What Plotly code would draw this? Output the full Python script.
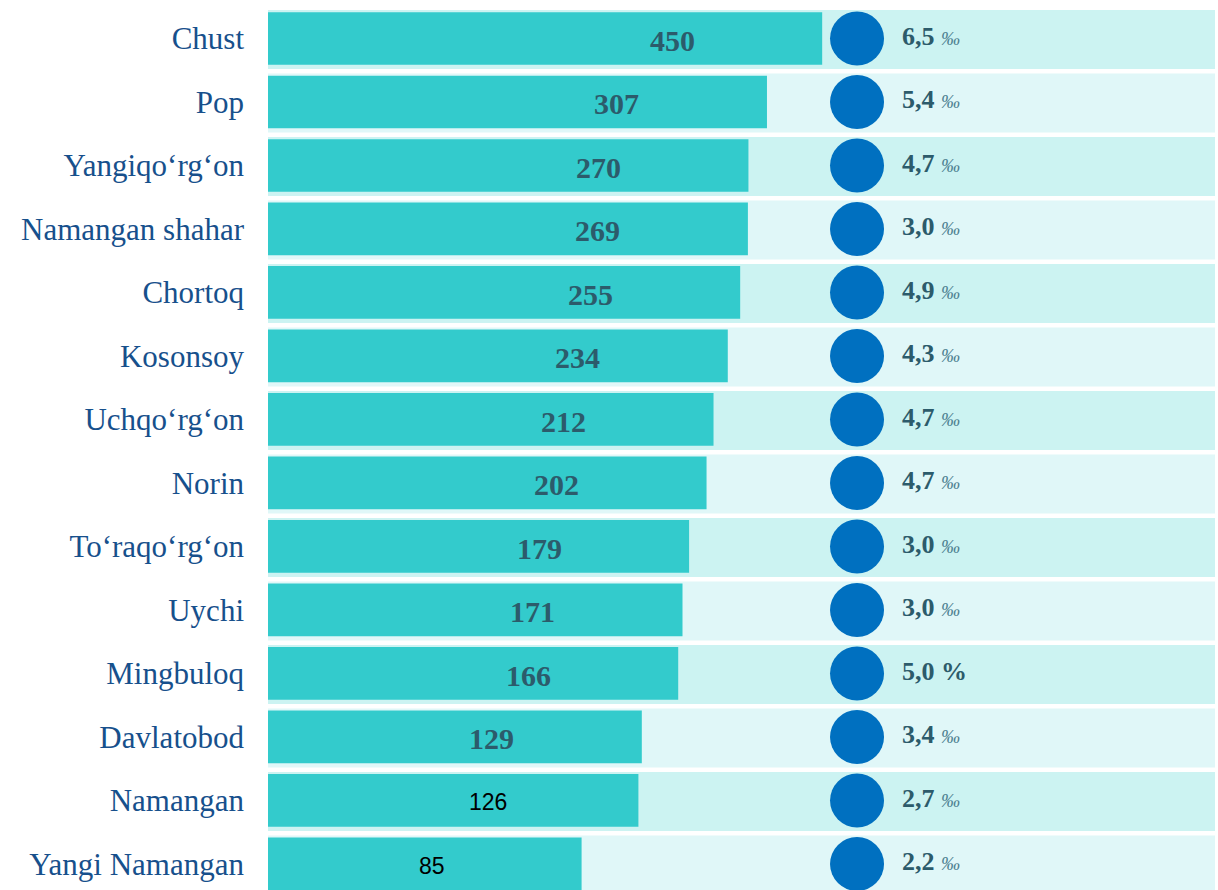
import numpy as np
import plotly.graph_objects as go

# ---- data ----
districts = ["Chust", "Pop", "Yangiqo‘rg‘on", "Namangan shahar", "Chortoq", "Kosonsoy",
             "Uchqo‘rg‘on", "Norin", "To‘raqo‘rg‘on", "Uychi", "Mingbuloq", "Davlatobod",
             "Namangan", "Yangi Namangan"]
counts = [450, 307, 270, 269, 255, 234, 212, 202, 179, 171, 166, 129, 126, 85]
rates = ["6,5", "5,4", "4,7", "3,0", "4,9", "4,3", "4,7", "4,7", "3,0", "3,0", "5,0", "3,4", "2,7", "2,2"]
units = ["‰", "‰", "‰", "‰", "‰", "‰", "‰", "‰", "‰", "‰", "%", "‰", "‰", "‰"]

# ---- styles ----
BAR = "#33CBCC"
ROW_A = "#CCF3F2"
ROW_B = "#E0F7F8"
LABEL = "#17508C"
NUM = "#2C5B6B"
UNIT = "#4E8191"
DOT = "#0070C0"
SERIF = "Liberation Serif, Times New Roman, serif"

n = len(districts)
fig = go.Figure()

fig.add_trace(go.Bar(
    x=counts, y=districts, orientation="h",
    marker=dict(color=BAR, line=dict(width=0)),
    width=0.83, hoverinfo="skip", showlegend=False,
))

fig.add_trace(go.Scatter(
    x=[0.622] * n, y=districts, xaxis="x2", mode="markers",
    marker=dict(size=54, color=DOT, line=dict(width=0)),
    hoverinfo="skip", showlegend=False,
))

shapes = []
for i in range(n):
    shapes.append(dict(
        type="rect", xref="paper", yref="y", x0=0, x1=1,
        y0=i - 0.45, y1=i + 0.48, line=dict(width=0),
        fillcolor=ROW_A if i % 2 == 0 else ROW_B, layer="below",
    ))

annotations = []
for i, (d, c) in enumerate(zip(districts, counts)):
    if i >= 12:
        font = dict(family="Liberation Sans, Arial, sans-serif", size=23, color="#000000")
        txt = str(c)
    else:
        font = dict(family=SERIF, size=30, color=NUM)
        txt = f"<b>{c}</b>"
    annotations.append(dict(
        x=np.log10(c), y=d, xref="x", yref="y", text=txt, showarrow=False,
        xanchor="center", xshift=-150, yshift=-2, font=font,
    ))

for i, (d, r, u) in enumerate(zip(districts, rates, units)):
    if u == "%":
        txt = f"<b>{r} {u}</b>"
    else:
        txt = f"<b>{r}</b> <span style='font-size:19px;color:{UNIT}'><i>{u}</i></span>"
    annotations.append(dict(
        x=0.667, y=d, xref="paper", yref="y", text=txt, showarrow=False,
        xanchor="left", yshift=2, font=dict(family=SERIF, size=26, color=NUM),
    ))

fig.update_layout(
    width=1218, height=890, autosize=False,
    margin=dict(l=268, r=3, t=0, b=0),
    paper_bgcolor="white", plot_bgcolor="white",
    bargap=0.17, hovermode=False,
    shapes=shapes, annotations=annotations,
    xaxis=dict(type="log", range=[0.986, 3.835], showgrid=False, zeroline=False,
               showticklabels=False, showline=False, ticks=""),
    xaxis2=dict(overlaying="x", range=[0, 1], visible=False),
    yaxis=dict(categoryorder="array", categoryarray=districts,
               range=[13.41, -0.606], showgrid=False, zeroline=False,
               showline=False, ticks="", ticklabelstandoff=23,
               tickfont=dict(family=SERIF, size=31, color=LABEL), automargin=False),
)

fig.write_html("out.html", config={"displayModeBar": False},
               post_script="document.body.style.margin='0';document.body.style.overflow='hidden';")
